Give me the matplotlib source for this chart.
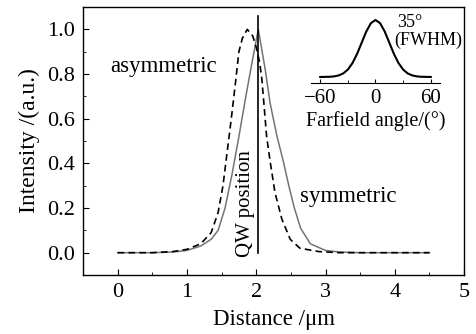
import matplotlib.pyplot as plt
from matplotlib.ticker import MultipleLocator

plt.rcParams['font.family'] = ['Liberation Serif', 'DejaVu Serif']

# symmetric waveguide (solid grey)
symX = [0.0, 0.5, 0.8, 1.0, 1.2, 1.35, 1.45, 1.55, 1.65, 1.75, 1.85, 1.95, 2.03,
        2.13, 2.20, 2.30, 2.39, 2.47, 2.55, 2.64, 2.78, 3.0, 3.2, 3.5, 4.0, 4.5]
symY = [0.0, 0.0, 0.003, 0.01, 0.03, 0.06, 0.10, 0.20, 0.35, 0.52, 0.70, 0.87, 1.0,
        0.82, 0.67, 0.52, 0.41, 0.30, 0.20, 0.11, 0.04, 0.01, 0.003, 0.0, 0.0, 0.0]

# asymmetric waveguide (dashed black)
asymX = [0.0, 0.5, 0.8, 1.0, 1.2, 1.35, 1.45, 1.52, 1.58, 1.64, 1.70, 1.75, 1.80, 1.87,
         1.95, 2.0, 2.05, 2.08, 2.11, 2.15, 2.20, 2.27, 2.37, 2.49, 2.63, 2.9, 3.2, 3.5, 4.0, 4.5]
asymY = [0.0, 0.0, 0.005, 0.015, 0.04, 0.09, 0.18, 0.30, 0.45, 0.60, 0.76, 0.90, 0.96, 1.0,
         0.97, 0.92, 0.85, 0.78, 0.67, 0.52, 0.41, 0.27, 0.15, 0.06, 0.02, 0.005, 0.0, 0.0, 0.0, 0.0]

qwPos = 2.02

# farfield inset
angle = [-60, -50, -45, -40, -35, -30, -25, -20, -15, -10, -5, 0,
         5, 10, 15, 20, 25, 30, 35, 40, 45, 50, 60]
farfield = [0.10, 0.103, 0.109, 0.124, 0.156, 0.217, 0.319, 0.464, 0.641, 0.818, 0.95, 1.0,
            0.95, 0.818, 0.641, 0.464, 0.319, 0.217, 0.156, 0.124, 0.109, 0.103, 0.10]

fs = 16

fig = plt.figure(figsize=(4.77, 3.34), dpi=100)
ax = fig.add_axes([0.174, 0.1766, 0.799, 0.8024])
ax.plot(symX, symY, color='0.45', lw=1.1)
ax.plot(asymX, asymY, color='black', lw=1.2, dashes=(4, 2.5))
ax.plot([qwPos, qwPos], [0, 1.06], color='black', lw=1.2)

ax.set_xlim(-0.5, 5)
ax.set_ylim(-0.1, 1.1)
ax.set_xticks([0, 1, 2, 3, 4, 5])
ax.set_yticks([0.0, 0.2, 0.4, 0.6, 0.8, 1.0])
ax.xaxis.set_minor_locator(MultipleLocator(0.5))
ax.yaxis.set_minor_locator(MultipleLocator(0.1))
ax.tick_params(which='both', direction='in', labelsize=fs, pad=6)
ax.tick_params(which='major', length=4)
ax.tick_params(which='minor', length=2)
ax.set_xlim(-0.5, 5)
for s in ax.spines.values():
    s.set_linewidth(1.0)

ax.set_xlabel('Distance /μm', fontsize=fs + 0.5, labelpad=5)
ax.set_ylabel('Intensity /(a.u.)', fontsize=fs + 1, labelpad=5)

ax.text(-0.1, 0.835, 'asymmetric', fontsize=fs + 0.5, va='center', ha='left')
ax.text(2.63, 0.25, 'symmetric', fontsize=fs + 0.5, va='center', ha='left')
ax.text(1.85, -0.02, 'QW position', fontsize=15, rotation=90, va='bottom', ha='center')

# inset
ins = fig.add_axes([0.652, 0.7506, 0.2704, 0.2085])
ins.patch.set_alpha(0)
ins.plot(angle, farfield, color='black', lw=1.5)
ins.set_xlim(-70, 70)
ins.set_ylim(0, 1.1)
for side in ['top', 'left', 'right']:
    ins.spines[side].set_visible(False)
ins.set_yticks([])
ins.set_xticks([-60, 0, 60])
ins.xaxis.set_minor_locator(MultipleLocator(30))
ins.tick_params(which='both', direction='in', labelsize=15, pad=4)
ins.tick_params(which='major', length=3)
ins.tick_params(which='minor', length=2)
ins.set_xlabel('Farfield angle/(°)', fontsize=14.5, labelpad=2)
ins.text(23, 0.83, '35°', fontsize=13, ha='left', va='bottom')
ins.text(20.5, 0.81, '(FWHM)', fontsize=13, ha='left', va='top')

fig.savefig('out.png', dpi=100)
